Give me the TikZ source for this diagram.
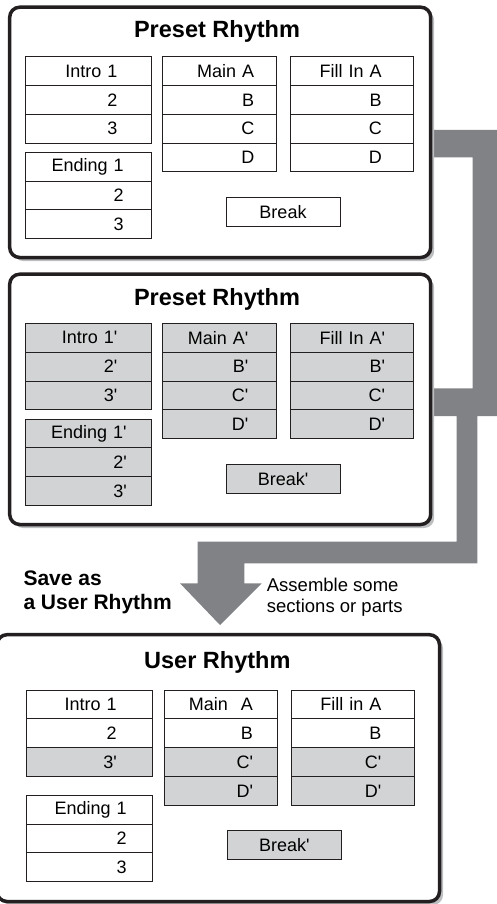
\documentclass[tikz,border=0pt]{standalone}
\usepackage{fontspec}
\setmainfont{Liberation Sans}[Ligatures=TeXOff]
\usetikzlibrary{positioning,shadows}
\definecolor{rhygray}{HTML}{D1D3D4}
\definecolor{pipegray}{HTML}{808285}
\definecolor{shadegray}{HTML}{BCBEC0}
\definecolor{inkblack}{HTML}{231F20}
\newcommand{\cellfont}{\fontsize{18}{21}\selectfont}

\begin{document}
\begin{tikzpicture}[
    x=1pt, y=-1pt,
    frame/.style={draw=inkblack, line width=3.5pt, rounded corners=10pt, fill=white,
        drop shadow={shadow xshift=3.5pt, shadow yshift=-3.5pt, fill=shadegray, opacity=1}},
    cell/.style={draw=inkblack, line width=1pt, fill=white, minimum height=28.8pt,
        inner sep=0pt, outer sep=0pt, font=\cellfont},
    col/.style 2 args={cell, text width=#1, align=right, execute at end node={\hspace*{#2}}},
    grey/.style={fill=rhygray},
    brk/.style={cell, minimum width=114pt},
    title/.style={anchor=base, font=\fontsize{23.5}{28}\selectfont\bfseries},
    note/.style={anchor=north west, inner sep=0pt, align=left}
]
\useasboundingbox (0,0) rectangle (497,904);

% gray pipe from both presets down to the user rhythm
\fill[pipegray] (430,130) -- (500,130) -- (500,416) -- (477.3,416) -- (477.3,563.3)
    -- (244.3,563.3) -- (244.3,583.3) -- (261.7,583.3) -- (220,625) -- (180,583.3)
    -- (197.7,583.3) -- (197.7,541.7) -- (456.7,541.7) -- (456.7,416) -- (430,416)
    -- (430,388.3) -- (472.7,388.3) -- (472.7,157.3) -- (430,157.3) -- cycle;

% first preset
\node[frame, minimum width=421pt, minimum height=250.3pt] (pre) at (220.2,132.35) {};
\node[title] (pretitle) at (217,37.3) {Preset Rhythm};
\begin{scope}[nodes={col={126pt}{34.4pt}}]
\node (pi1) at (88.7,71.1) {Intro 1};
\node[below=0pt of pi1] (pi2) {2};
\node[below=0pt of pi2] (pi3) {3};
\end{scope}
\begin{scope}[nodes={col={126pt}{28pt}}]
\node (pe1) at (88.7,166.7) {Ending 1};
\node[below=0pt of pe1] (pe2) {2};
\node[below=0pt of pe2] (pe3) {3};
\end{scope}
\begin{scope}[nodes={col={113.7pt}{22.4pt}}]
\node (pm1) at (219.8,71.1) {Main A};
\node[below=0pt of pm1] (pm2) {B};
\node[below=0pt of pm2] (pm3) {C};
\node[below=0pt of pm3] (pm4) {D};
\end{scope}
\begin{scope}[nodes={col={122.7pt}{31.3pt}}]
\node (pf1) at (351.7,71.1) {Fill In A};
\node[below=0pt of pf1] (pf2) {B};
\node[below=0pt of pf2] (pf3) {C};
\node[below=0pt of pf3] (pf4) {D};
\end{scope}
\node[brk] (pbrk) at (283,212.2) {Break};

% second preset, all sections primed
\node[frame, minimum width=421pt, minimum height=250.3pt] (sec) at (220.2,399.35) {};
\node[title] (sectitle) at (217,305) {Preset Rhythm};
\begin{scope}[nodes={col={126pt}{34.4pt}, grey}]
\node (si1) at (88.7,337.8) {Intro 1'};
\node[below=0pt of si1] (si2) {2'};
\node[below=0pt of si2] (si3) {3'};
\end{scope}
\begin{scope}[nodes={col={126pt}{25pt}, grey}]
\node (se1) at (88.7,433.4) {Ending 1'};
\node[below=0pt of se1] (se2) {2'};
\node[below=0pt of se2] (se3) {3'};
\end{scope}
\begin{scope}[nodes={col={113.7pt}{28.4pt}, grey}]
\node (sm1) at (219.8,337.8) {Main A'};
\node[below=0pt of sm1] (sm2) {B'};
\node[below=0pt of sm2] (sm3) {C'};
\node[below=0pt of sm3] (sm4) {D'};
\end{scope}
\begin{scope}[nodes={col={122.7pt}{28pt}, grey}]
\node (sf1) at (351.7,337.8) {Fill In A'};
\node[below=0pt of sf1] (sf2) {B'};
\node[below=0pt of sf2] (sf3) {C'};
\node[below=0pt of sf3] (sf4) {D'};
\end{scope}
\node[brk, grey] (sbrk) at (283,478.9) {Break'};

\node[note, font=\fontsize{21}{24}\selectfont\bfseries] (saveas) at (23.3,570.5) {Save as\\a User Rhythm};
\node[note, font=\fontsize{18.5}{21}\selectfont] (assemble) at (266.7,577.5) {Assemble some\\sections or parts};

% resulting user rhythm
\node[frame, minimum width=442.5pt, minimum height=266.8pt] (usr) at (218.25,768.1) {};
\node[title] (usrtitle) at (217.3,668.3) {User Rhythm};
\begin{scope}[nodes={col={126pt}{36pt}}]
\node (ui1) at (89.7,704.4) {Intro 1};
\node[below=0pt of ui1] (ui2) {2};
\node[below=0pt of ui2, grey] (ui3) {3'};
\end{scope}
\begin{scope}[nodes={col={126pt}{26pt}}]
\node (ue1) at (89.7,809.7) {Ending 1};
\node[below=0pt of ue1] (ue2) {2};
\node[below=0pt of ue2] (ue3) {3};
\end{scope}
\begin{scope}[nodes={col={113.3pt}{25pt}}]
\node (um1) at (221.3,704.4) {Main\hspace{13pt}A};
\node[below=0pt of um1] (um2) {B};
\node[below=0pt of um2, grey] (um3) {C'};
\node[below=0pt of um3, grey] (um4) {D'};
\end{scope}
\begin{scope}[nodes={col={122.7pt}{33pt}}]
\node (uf1) at (353,704.4) {Fill in A};
\node[below=0pt of uf1] (uf2) {B};
\node[below=0pt of uf2, grey] (uf3) {C'};
\node[below=0pt of uf3, grey] (uf4) {D'};
\end{scope}
\node[brk, grey] (ubrk) at (284.3,845) {Break'};
\end{tikzpicture}
\end{document}
